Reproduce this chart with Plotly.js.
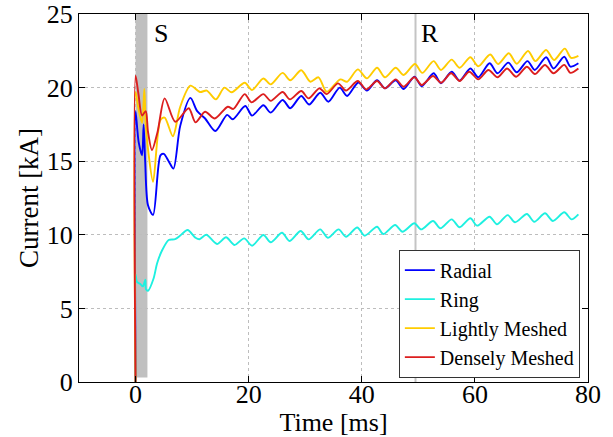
<!DOCTYPE html>
<html>
<head>
<meta charset="utf-8">
<script src="https://cdn.plot.ly/plotly-3.0.1.min.js"></script>
<style>html,body{margin:0;padding:0;background:#fff;}#chart{width:613px;height:437px;}</style>
</head>
<body>
<div id="chart"></div>
<script>
// Series names
const seriesNames = ["Radial", "Ring", "Lightly Meshed", "Densely Meshed"];

// Radial
const tRadial = [0, 0, 0.3, 0.55, 1.15, 1.43, 1.7, 2.2, 3.1, 4.4, 5.0, 5.85, 6.7, 7.9, 9.7, 10.9, 12.3, 14.1, 16.2, 17.2, 19.4, 20.6, 22.6, 23.9, 26.0, 27.35, 29.3, 30.7, 32.65, 34.1, 36.1, 37.4, 39.4, 40.9, 42.7, 44.1, 46.0, 47.4, 49.3, 50.6, 52.7, 54.0, 55.9, 57.3, 59.2, 60.6, 62.6, 64.0, 65.9, 67.4, 69.3, 70.6, 72.6, 73.9, 75.8, 76.9, 78.3];
const iRadial = [0, 18.4, 17.2, 16.3, 15.4, 17.5, 15.0, 12.0, 11.35, 15.4, 15.5, 15.0, 14.5, 17.4, 19.3, 18.4, 17.9, 17.05, 18.15, 17.85, 18.75, 18.1, 18.8, 18.3, 19.16, 18.6, 19.43, 18.85, 19.65, 19.04, 20.0, 19.43, 20.35, 19.8, 20.5, 19.95, 20.5, 19.9, 20.74, 20.1, 20.97, 20.3, 21.08, 20.47, 21.3, 20.7, 21.65, 20.97, 21.7, 21.04, 21.8, 21.2, 22.06, 21.3, 22.1, 21.42, 21.65];

// Ring
const tRing = [0, 0, 0.25, 0.85, 1.3, 1.73, 1.85, 2.2, 3.2, 3.8, 4.7, 5.85, 7.0, 7.9, 9.2, 10.6, 11.3, 12.5, 14.4, 16.0, 17.5, 19.2, 20.6, 22.6, 23.9, 25.9, 27.2, 29.2, 30.6, 32.65, 34.0, 35.9, 37.2, 39.2, 40.5, 42.7, 43.8, 45.9, 47.2, 49.3, 50.5, 52.6, 53.9, 55.9, 57.3, 59.2, 60.4, 62.6, 63.9, 65.8, 67.1, 69.2, 70.5, 72.4, 73.8, 75.8, 77.1, 78.3];
const iRing = [0, 7.3, 6.8, 6.65, 6.5, 6.95, 6.3, 6.2, 7.05, 8.05, 8.95, 9.65, 9.7, 9.95, 10.33, 9.8, 9.7, 10.0, 9.38, 9.83, 9.31, 9.76, 9.26, 9.99, 9.49, 10.14, 9.58, 10.26, 9.69, 10.37, 9.8, 10.37, 9.87, 10.5, 9.94, 10.55, 10.05, 10.67, 10.21, 10.78, 10.37, 10.94, 10.44, 11.05, 10.51, 11.12, 10.62, 11.23, 10.71, 11.34, 10.85, 11.41, 10.89, 11.46, 10.94, 11.53, 11.05, 11.39];

// Lightly Meshed
const tLight = [0, 0, 0.5, 1.15, 1.55, 1.8, 2.3, 3.1, 4.4, 5.15, 6.6, 7.9, 9.7, 11.4, 12.6, 14.2, 15.7, 17.0, 19.3, 20.6, 22.6, 23.9, 26.0, 27.35, 29.3, 30.9, 32.35, 33.8, 36.2, 37.4, 39.3, 40.9, 42.7, 44.1, 46.0, 47.4, 49.4, 50.7, 52.7, 54.0, 55.9, 57.3, 59.2, 60.6, 62.7, 64.1, 66.0, 67.4, 69.4, 70.7, 72.6, 74.0, 75.9, 77.0, 78.3];
const iLight = [0, 19.7, 18.6, 17.6, 19.9, 17.5, 15.5, 13.6, 17.8, 17.96, 16.7, 18.7, 20.13, 19.7, 19.8, 19.2, 20.0, 19.68, 20.33, 19.84, 20.62, 20.22, 21.0, 20.5, 21.18, 20.4, 20.7, 19.72, 20.56, 20.4, 21.24, 20.63, 21.35, 20.7, 21.35, 20.86, 21.6, 21.0, 21.8, 21.2, 21.9, 21.35, 22.06, 21.45, 22.25, 21.6, 22.33, 21.62, 22.49, 21.8, 22.55, 21.87, 22.65, 22.02, 22.16];

// Densely Meshed
const tDense = [0, 0, 0.5, 1.15, 1.8, 2.2, 2.9, 3.9, 5.15, 7.03, 9.4, 10.6, 12.3, 14.0, 16.3, 17.3, 19.3, 20.5, 22.6, 23.9, 26.0, 27.3, 29.3, 30.6, 32.5, 33.8, 35.8, 37.2, 39.3, 40.8, 42.7, 44.1, 46.0, 47.4, 49.3, 50.6, 52.6, 54.0, 55.8, 57.3, 59.0, 60.6, 62.4, 64.0, 65.7, 67.3, 69.2, 70.6, 72.4, 73.9, 75.8, 76.9, 78.3];
const iDense = [0, 20.8, 19.6, 18.1, 18.4, 17.0, 15.76, 17.0, 19.27, 17.68, 18.6, 17.64, 18.36, 17.9, 18.7, 18.55, 19.56, 19.0, 19.56, 19.1, 19.7, 19.2, 19.77, 19.27, 19.95, 19.56, 20.29, 19.8, 20.45, 19.88, 20.45, 19.95, 20.56, 20.06, 20.7, 20.18, 20.79, 20.33, 20.97, 20.45, 21.08, 20.56, 21.2, 20.7, 21.3, 20.74, 21.42, 20.92, 21.54, 20.97, 21.54, 21.0, 21.3];

// Event markers
const eventLabels = ["S", "R"];
const eventTimes = [4.5, 52.1];
const faultBand = [0, 2.1];
const reclose = 49.5;

const xTicks = [0, 20, 40, 60, 80];
const yTicks = [0, 5, 10, 15, 20, 25];

const colors = ["#0000ff", "#1ef0e0", "#ffcc00", "#dc1e1e"];
const xs = [tRadial, tRing, tLight, tDense];
const ys = [iRadial, iRing, iLight, iDense];

const font = "Liberation Serif";

const traces = seriesNames.map((n, k) => ({
  type: "scatter", mode: "lines", name: n,
  x: xs[k], y: ys[k],
  line: {color: colors[k], width: 1.9, shape: "spline", smoothing: 0.8}
}));

const layout = {
  width: 613, height: 437,
  margin: {l: 79, r: 25, t: 14, b: 55},
  paper_bgcolor: "#fff", plot_bgcolor: "#fff",
  font: {family: font, size: 26, color: "#000"},
  showlegend: true,
  legend: {
    x: 0.984, xanchor: "right", y: 0.012, yanchor: "bottom",
    bgcolor: "#fff", bordercolor: "#333", borderwidth: 1,
    font: {family: font, size: 20, color: "#000"},
    tracegroupgap: 0
  },
  xaxis: {
    range: [-10, 80], tickvals: xTicks, ticktext: xTicks.map(String),
    ticks: "inside", ticklen: 6, tickcolor: "#000",
    showline: true, linecolor: "#000", linewidth: 1, mirror: "ticks",
    showgrid: true, gridcolor: "#bdbdbd", griddash: "dot", gridwidth: 1,
    zeroline: false, ticklabelstandoff: -11,
    title: {text: "Time [ms]", font: {family: font, size: 26}, standoff: 0},
    tickfont: {family: font, size: 26}
  },
  yaxis: {
    range: [0, 25], tickvals: yTicks, ticktext: yTicks.map(String),
    ticks: "inside", ticklen: 6, tickcolor: "#000",
    showline: true, linecolor: "#000", linewidth: 1, mirror: "ticks",
    showgrid: true, gridcolor: "#bdbdbd", griddash: "dot", gridwidth: 1,
    zeroline: false,
    title: {text: "Current [kA]", font: {family: font, size: 27}, standoff: 0},
    tickfont: {family: font, size: 26}
  },
  shapes: [
    {type: "rect", xref: "x", yref: "y", x0: faultBand[0], x1: faultBand[1], y0: 0.3, y1: 25,
     fillcolor: "#c0c0c0", line: {width: 0}, layer: "below"},
    {type: "line", xref: "x", yref: "y", x0: reclose, x1: reclose, y0: 0, y1: 25,
     line: {color: "#c4c4c4", width: 2}, layer: "below"}
  ],
  annotations: eventLabels.map((s, k) => ({
    x: eventTimes[k], y: 23.7, xref: "x", yref: "y", text: s, showarrow: false,
    font: {family: font, size: 26, color: "#000"}
  }))
};

Plotly.newPlot("chart", traces, layout, {displayModeBar: false, staticPlot: true});
</script>
</body>
</html>
